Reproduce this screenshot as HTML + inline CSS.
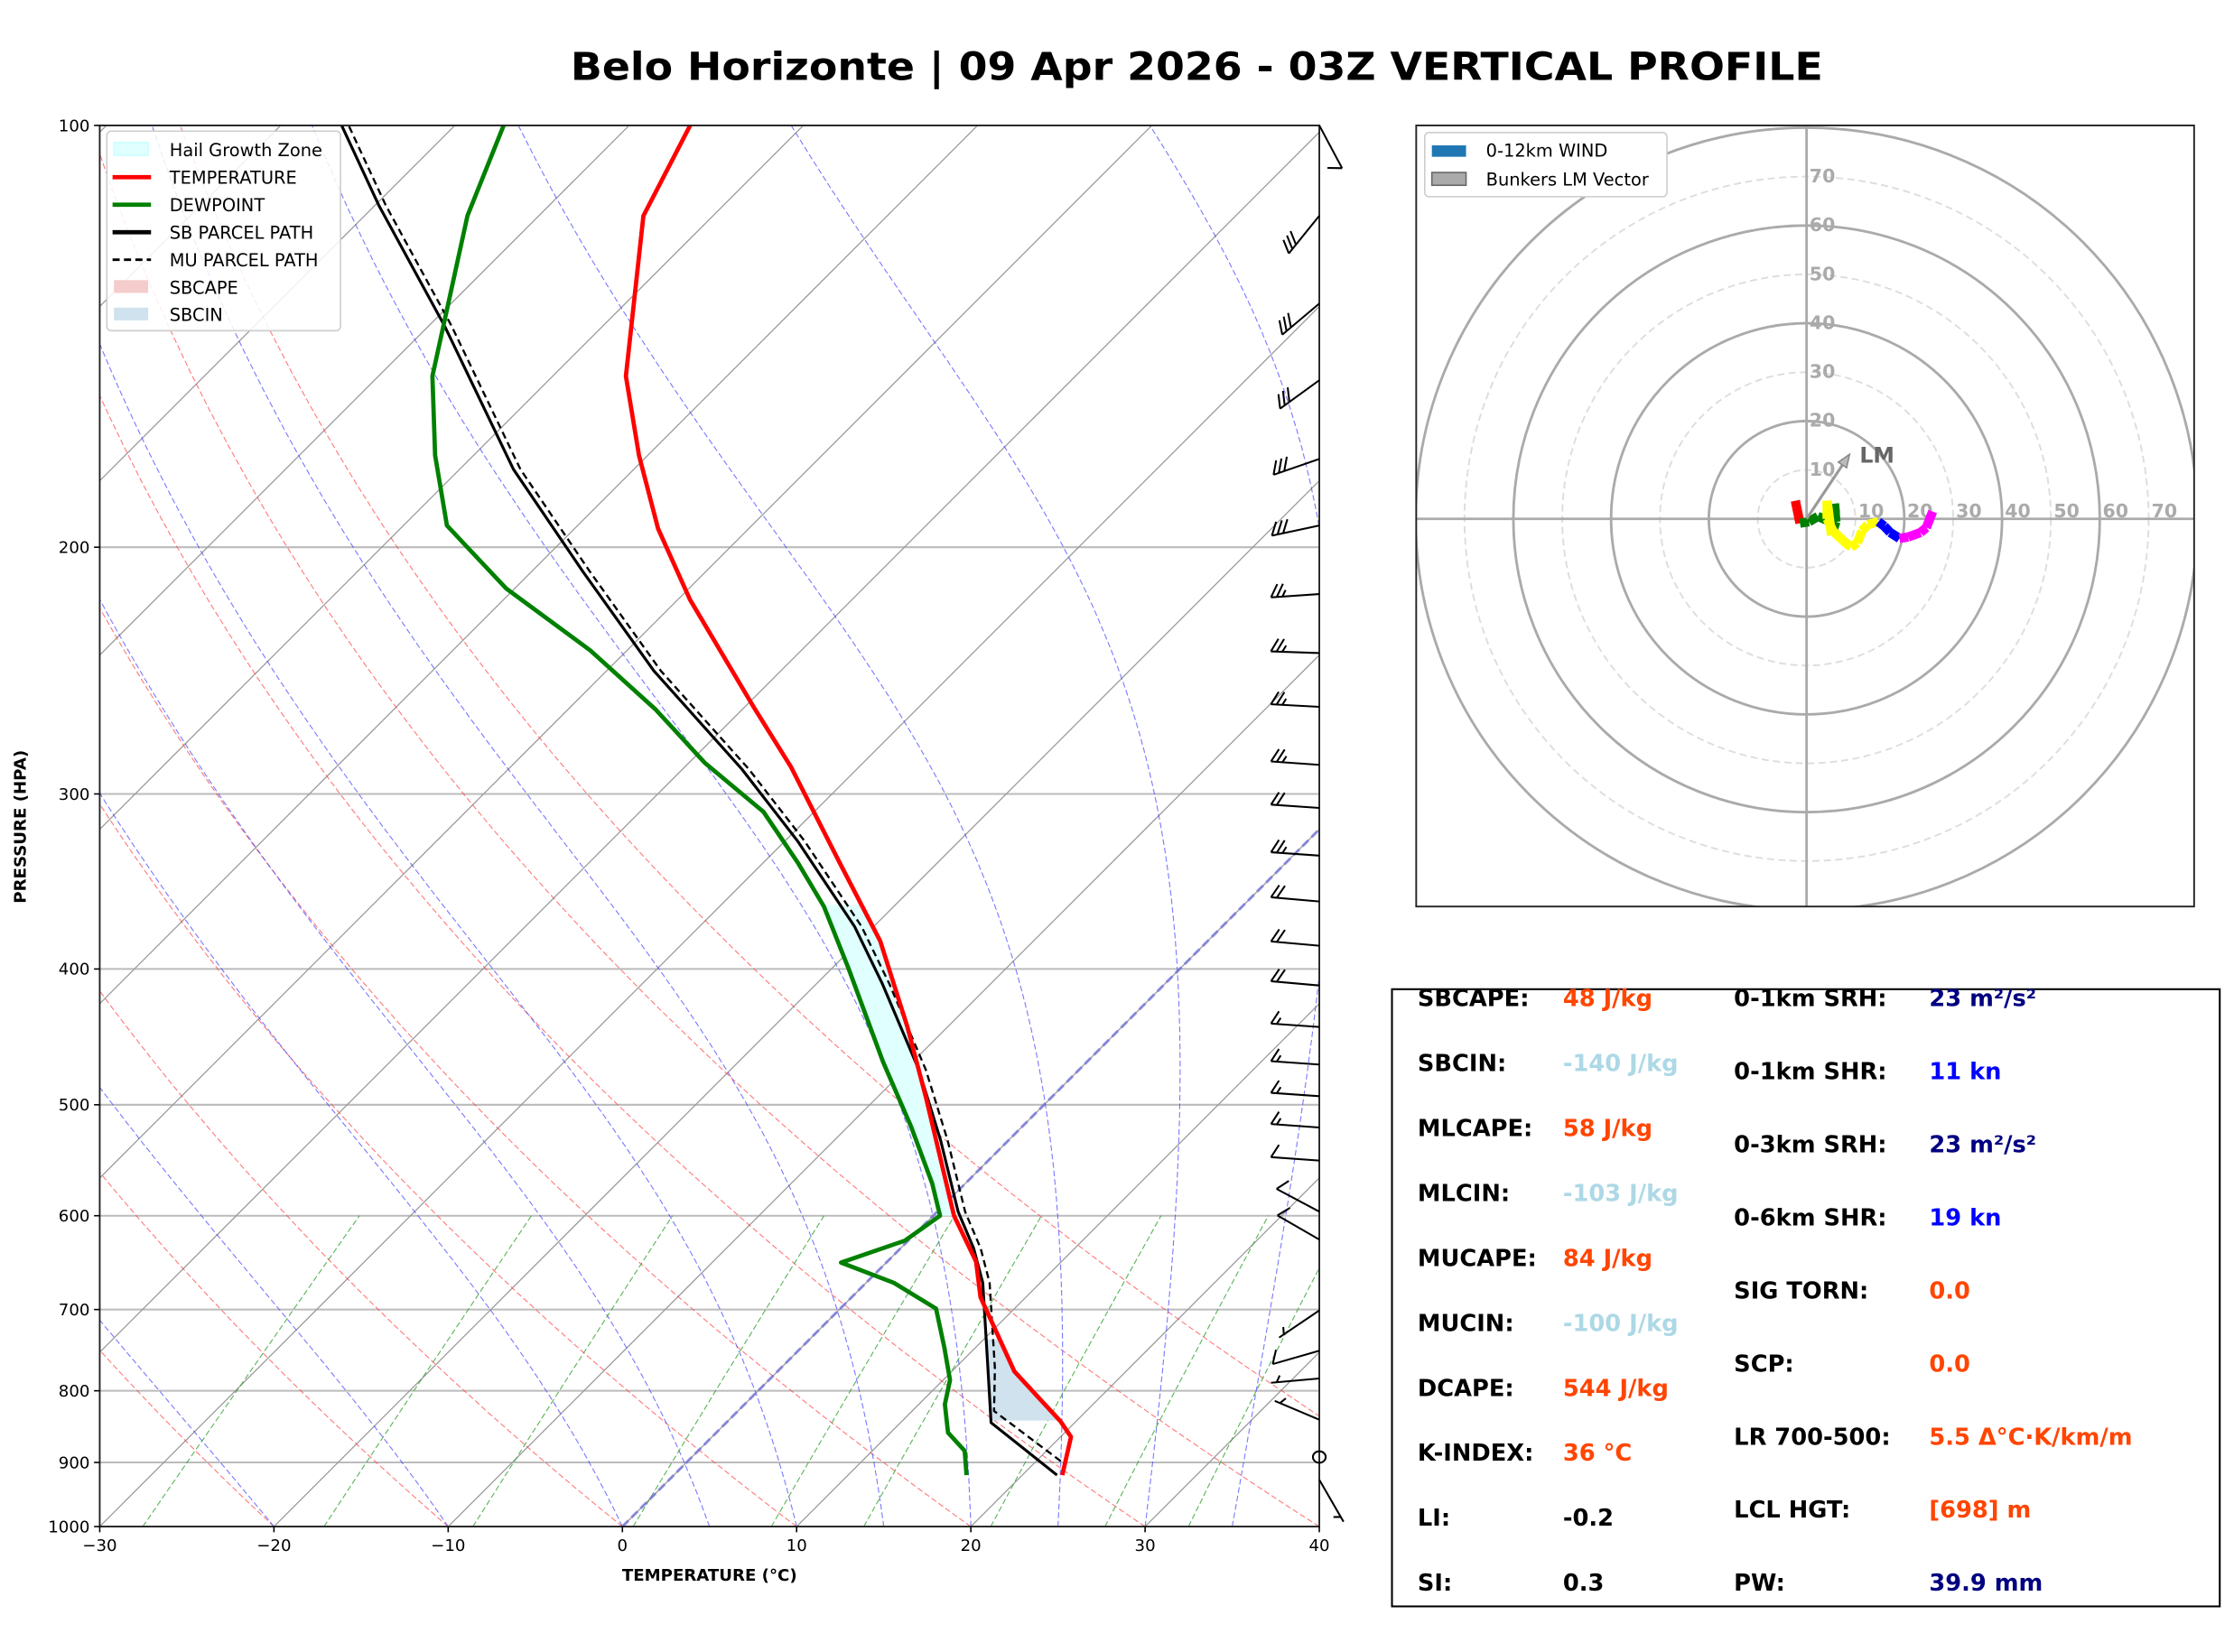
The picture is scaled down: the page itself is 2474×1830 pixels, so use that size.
<!DOCTYPE html>
<html><head><meta charset="utf-8"><style>
html,body{margin:0;padding:0;background:#fff}
svg{display:block}
text{font-family:"DejaVu Sans","Liberation Sans",sans-serif}
</style></head><body>
<svg id="fig" width="2474" height="1830" viewBox="0 0 1568 1159" preserveAspectRatio="none" xmlns="http://www.w3.org/2000/svg">
<defs>
<clipPath id="skclip"><rect x="70" y="88" width="856" height="983"/></clipPath>
<clipPath id="hoclip"><rect x="994" y="88" width="546" height="548"/></clipPath>
</defs>
<rect width="1568" height="1159" fill="#fff"/>
<text x="840" y="56" text-anchor="middle" font-size="27" font-weight="bold" textLength="879" lengthAdjust="spacingAndGlyphs">Belo Horizonte | 09 Apr 2026 - 03Z VERTICAL PROFILE</text>
<g id="skew"></g>
<g id="hodo"></g>
<g id="table"></g>
</svg>
<script>
// ---- Sounding data (pressure hPa, temperature °C) ----
const tempP = [919,863,841,775,686,647,600,494,440,382,336,287,260,218,194,172,151,116,100];
const tempT = [22.3,20.6,19.1,13.6,7.4,5.1,1.2,-7.2,-12.3,-18.8,-25.6,-33.9,-39.5,-49.3,-55.2,-60.5,-65.8,-74,-76.5];
const dewP = [919,883,857,818,786,745,699,670,648,625,600,569,518,466,400,361,336,309,285,261,237,214,193,172,151,116,100];
const dewT = [16.8,15.3,13.3,11.5,10.4,8.2,5.5,1.6,-2.6,-0.2,0.4,-1.9,-6.4,-11.7,-19.0,-24.0,-28.0,-32.9,-39.1,-45.0,-52.1,-60.5,-67.5,-72.2,-76.9,-84.1,-87.2];
const sbP = [919,843,771,670,633,596,530,472,410,373,324,288,245,208,176,139,114,100];
const sbT = [22.0,15.2,11.9,6.7,4.2,1.2,-3.9,-9.2,-16.2,-21.1,-29.3,-36.6,-47.3,-57.1,-66.9,-79.1,-89.8,-96.5];
const muP = [898,827,771,670,633,596,530,472,410,373,324,288,245,208,176,139,114,100];
const muT = [21.4,14.7,12.3,7.1,4.6,1.6,-3.5,-8.8,-15.8,-20.7,-28.9,-36.2,-46.9,-56.7,-66.5,-78.7,-89.4,-96.1];
// ---- Wind barbs ----
const barbP = [100,116,134,152,173,193,216,238,260,286,307,332,358,385,411,440,468,493,519,548,596,624,701,749,784,839,926];
const barbDir = [152,219,230,234,251,258,266,272,273,274,274,274,275,275,275,274,274,274,274,274,298,300,236,254,265,293,150];
const barbSpd = [10,30,30,30,30,30,25,25,25,25,20,25,20,20,20,15,15,15,15,10,10,10,5,10,5,5,5];
const calmP = [892];
// ---- Hodograph (knots) ----
const hodoU = [-2.3,-1.35,0.5,2.3,4.2,5.9,5.7,6.0,5.1,4.2,4.2,5.4,7.3,9.1,10.4,11.3,12.5,14.7,15.9,17.1,19.0,20.8,23.3,24.5,25.8];
const hodoV = [3.7,-0.9,-0.6,0.5,-0.3,1.2,3.1,-0.6,-3.4,3.7,0,-2.5,-4.3,-5.8,-4.9,-2.5,-1.2,-0.6,-1.5,-2.8,-4.0,-3.7,-2.8,-1.8,1.5];
const hodoSeg = [0,0,1,1,1,1,1,1,1,2,2,2,2,2,2,2,2,2,3,3,3,4,4,4,4];
const segColors = ["#ff0000","#008000","#ffff00","#0000ff","#ff00ff"];
const lmU = 8.8, lmV = 13.2;
const xTicks = [-30,-20,-10,0,10,20,30,40];
const yTicks = [100,200,300,400,500,600,700,800,900,1000];
const hodoRings = [10,20,30,40,50,60,70,80];

const NS="http://www.w3.org/2000/svg";
function mk(tag, attrs, parent){const e=document.createElementNS(NS,tag);for(const k in attrs)e.setAttribute(k,attrs[k]);parent.appendChild(e);return e;}
const L=70,R=926,T0=88,B=1071,PXC=856/70;
function Y(p){return B-983*Math.log10(1000/p);}
function X(t,p){return L+(t+30)*PXC+(B-Y(p));}
function interp(P,Tv,p){for(let i=0;i<P.length-1;i++){if(p<=P[i]&&p>=P[i+1]){const f=Math.log(P[i]/p)/Math.log(P[i]/P[i+1]);return Tv[i]+f*(Tv[i+1]-Tv[i]);}}return null;}
const skew=document.getElementById('skew');
const bg=mk('g',{'clip-path':'url(#skclip)'},skew);


yTicks.forEach(p=>{const l=mk('line',{x1:L,x2:R,y1:Y(p),y2:Y(p),stroke:'#bbb','stroke-width':1.3},bg);});
for(let t=-120;t<=40;t+=10){const l=mk('line',{x1:X(t,1000),y1:Y(1000),x2:X(t,100),y2:Y(100),stroke:'#999','stroke-width':0.8},bg);}
for(let t0=-40;t0<=50;t0+=10){let d='';for(let p=1000;p>=100;p-=10){const t=(t0+273.15)*Math.pow(p/1000,0.2857)-273.15;d+=(p==1000?'M':'L')+X(t,p).toFixed(1)+' '+Y(p).toFixed(1);}const e=mk('path',{d:d,fill:'none',stroke:'#ff4040','stroke-width':0.7,'stroke-dasharray':'4 2','opacity':0.7},bg);}
function es(t){return 6.112*Math.exp(17.67*t/(t+243.5));}
[-20,-10,0,5,10,15,20,25,30,35].forEach(t0=>{let t=t0+273.15,d='';for(let p=1000;p>=100;p-=5){d+=(p==1000?'M':'L')+X(t-273.15,p).toFixed(1)+' '+Y(p).toFixed(1);const e=es(t-273.15),rs=0.622*e/(p-e);const dtdp=(287*t+2.5e6*rs)/(p*(1005+2.5e6*2.5e6*rs*0.622/(287*t*t)));t-=dtdp*5;}const e=mk('path',{d:d,fill:'none',stroke:'#4040ff','stroke-width':0.7,'stroke-dasharray':'4 2','opacity':0.7},bg);});
[0.4,1,2,4,7,10,16,24,32].forEach(w=>{let d='';for(let p=1000;p>=600;p-=20){const e=w*p/(622+w),lg=Math.log(e/6.112),t=243.5*lg/(17.67-lg);d+=(p==1000?'M':'L')+X(t,p).toFixed(1)+' '+Y(p).toFixed(1);}const e=mk('path',{d:d,fill:'none',stroke:'#30a030','stroke-width':0.7,'stroke-dasharray':'4 2','opacity':0.8},bg);});
const fz=mk('line',{x1:X(0,1000),y1:Y(1000),x2:X(0,100),y2:Y(100),stroke:'#6a6ae0','stroke-width':2,'stroke-dasharray':'6 3',opacity:0.65},bg);

function fillBetween(P1,T1,P2,T2,pb,pt,col,name){let a=[],b=[];for(let p=pb;p>=pt;p-=5){a.push(X(interp(P1,T1,p),p).toFixed(1)+','+Y(p).toFixed(1));b.unshift(X(interp(P2,T2,p),p).toFixed(1)+','+Y(p).toFixed(1));}const e=mk('polygon',{points:a.concat(b).join(' '),fill:col,stroke:'none'},bg);}
fillBetween(dewP,dewT,tempP,tempT,600,360,'#e0ffff','hail-growth-zone-fill');
fillBetween(sbP,sbT,tempP,tempT,840,735,'#cfe2ee','sbcin-fill');
function line(P,Tv,col,w,dash,name){const d=P.map((p,i)=>(i?'L':'M')+X(Tv[i],p).toFixed(1)+' '+Y(p).toFixed(1)).join('');const e=mk('path',{d:d,fill:'none',stroke:col,'stroke-width':w,'stroke-linejoin':'round'},bg);if(dash)e.setAttribute('stroke-dasharray',dash);}
line(sbP,sbT,'#000',2,null,'sb-parcel-path');
line(muP,muT,'#000',1.5,'5 3','mu-parcel-path');
line(tempP,tempT,'#ff0000',3,null,'temperature-line');
line(dewP,dewT,'#008000',3,null,'dewpoint-line');
const fr=mk('rect',{x:L,y:T0,width:R-L,height:B-T0,fill:'none',stroke:'#222','stroke-width':1.2},skew);

xTicks.forEach(t=>{const x=L+(t+30)*PXC;mk('line',{x1:x,x2:x,y1:B,y2:B+4,stroke:'#000','stroke-width':1},skew);const tx=mk('text',{x:x,y:B+17,'text-anchor':'middle','font-size':11.5},skew);tx.textContent=(t<0?'\u2212'+(-t):''+t);});
yTicks.forEach(p=>{mk('line',{x1:L-4,x2:L,y1:Y(p),y2:Y(p),stroke:'#000','stroke-width':1},skew);const tx=mk('text',{x:L-7,y:Y(p)+4,'text-anchor':'end','font-size':11.5},skew);tx.textContent=p;});
const xt=mk('text',{x:498,y:1109,'text-anchor':'middle','font-size':11.5,'font-weight':'bold'},skew);xt.textContent='TEMPERATURE (°C)';

const yt=mk('text',{x:18,y:580,'text-anchor':'middle','font-size':11.5,'font-weight':'bold',transform:'rotate(-90 18 580)'},skew);yt.textContent='PRESSURE (HPA)';

const bgB=mk('g',{stroke:'#000','stroke-width':1.3,fill:'none'},skew);

barbP.forEach((p,i)=>{const y=Y(p),x=R,d=barbDir[i]*Math.PI/180,sx=Math.sin(d),sy=-Math.cos(d),Ls=34;const ex=x+sx*Ls,ey=y+sy*Ls;const px=-sy,py=sx;let s=barbSpd[i],off=0,dd=`M${x} ${y}L${ex.toFixed(1)} ${ey.toFixed(1)}`;while(s>=10){const bx=ex-sx*off,by=ey-sy*off;dd+=`M${bx.toFixed(1)} ${by.toFixed(1)}l${(px*9-sx*5).toFixed(1)} ${(py*9-sy*5).toFixed(1)}`;s-=10;off+=4;}if(s>=5){if(off==0)off=4;const bx=ex-sx*off,by=ey-sy*off;dd+=`M${bx.toFixed(1)} ${by.toFixed(1)}l${(px*4.5-sx*2.5).toFixed(1)} ${(py*4.5-sy*2.5).toFixed(1)}`;}const e=mk('path',{d:dd},bgB);});
calmP.forEach(p=>{const e=mk('ellipse',{cx:R,cy:Y(p),rx:4.5,ry:4},bgB);});
const lg=mk('g',{},skew);
mk('rect',{x:75,y:92,width:164,height:140,rx:3,fill:'#fff','fill-opacity':0.85,stroke:'#ccc','stroke-width':1},lg);
const lgItems=[['Hail Growth Zone','patch','#e0ffff'],['TEMPERATURE','line','#ff0000'],['DEWPOINT','line','#008000'],['SB PARCEL PATH','line','#000'],['MU PARCEL PATH','dash','#000'],['SBCAPE','patch','#f4cccc'],['SBCIN','patch','#cfe2ee']];
lgItems.forEach((it,i)=>{const y=105+i*19.3;if(it[1]=='patch'){mk('rect',{x:80,y:y-5,width:24,height:9,fill:it[2],stroke:it[0]=='Hail Growth Zone'?'#c8ffff':'none'},lg);}else{mk('line',{x1:79,x2:106,y1:y,y2:y,stroke:it[2],'stroke-width':it[1]=='dash'?1.8:3,'stroke-dasharray':it[1]=='dash'?'5 3':'none'},lg);}const t=mk('text',{x:119,y:y+4.5,'font-size':12.3},lg);t.textContent=it[0];});
const ho=document.getElementById('hodo');const cx=1268,cy=364,K=3.43;
const hc=mk('g',{'clip-path':'url(#hoclip)'},ho);
hodoRings.forEach(r=>{const e=mk('circle',{cx:cx,cy:cy,r:r*K,fill:'none',stroke:r%20==0?'#aaa':'#ddd','stroke-width':r%20==0?1.8:1.2,'stroke-dasharray':r%20==0?'none':'5 3'},hc);});
mk('line',{x1:994,x2:1540,y1:cy,y2:cy,stroke:'#aaa','stroke-width':1.8},hc);
mk('line',{x1:cx,x2:cx,y1:88,y2:636,stroke:'#aaa','stroke-width':1.8},hc);
[10,20,30,40,50,60,70].forEach(r=>{let t=mk('text',{x:cx+r*K+2,y:cy-1,'font-size':13,'font-weight':'bold',fill:'#aaa'},hc);t.textContent=r;t=mk('text',{x:cx+2,y:cy-r*K+4,'font-size':13,'font-weight':'bold',fill:'#aaa'},hc);t.textContent=r;});
for(let i=0;i<hodoU.length-1;i++){const e=mk('line',{x1:cx+hodoU[i]*K,y1:cy-hodoV[i]*K,x2:cx+hodoU[i+1]*K,y2:cy-hodoV[i+1]*K,stroke:segColors[hodoSeg[i+1]],'stroke-width':6.5,'stroke-linecap':'butt'},hc);}
const ax=cx+lmU*K,ay=cy-lmV*K,ang=Math.atan2(ay-cy,ax-cx);
const lm=mk('g',{},hc);
mk('line',{x1:cx,y1:cy,x2:ax-Math.cos(ang)*6,y2:ay-Math.sin(ang)*6,stroke:'#999','stroke-width':2},lm);
const hx=Math.cos(ang),hy=Math.sin(ang);
mk('polygon',{points:`${ax},${ay} ${ax-hx*9+hy*3.5},${ay-hy*9-hx*3.5} ${ax-hx*9-hy*3.5},${ay-hy*9+hx*3.5}`,fill:'#bbb',stroke:'#888','stroke-width':1},lm);
const lmt=mk('text',{x:ax+7,y:ay+6,'font-size':15,'font-weight':'bold',fill:'#666'},hc);lmt.textContent='LM';

const hf=mk('rect',{x:994,y:88,width:546,height:548,fill:'none',stroke:'#222','stroke-width':1.2},ho);

const hl=mk('g',{},ho);
mk('rect',{x:1000,y:93,width:170,height:45,rx:3,fill:'#fff',stroke:'#ccc'},hl);
mk('rect',{x:1005,y:102,width:24,height:8,fill:'#1f77b4'},hl);
mk('rect',{x:1005,y:121,width:24,height:9,fill:'#aaa',stroke:'#666'},hl);
let t1=mk('text',{x:1043,y:110,'font-size':12.3},hl);t1.textContent='0-12km WIND';
t1=mk('text',{x:1043,y:130,'font-size':12.3},hl);t1.textContent='Bunkers LM Vector';
const tb=document.getElementById('table');
const tf=mk('rect',{x:977,y:694,width:581,height:433,fill:'none',stroke:'#000','stroke-width':1.3},tb);

const OR='#ff4500',LB='#add8e6',NV='#000080',BL='#0000ff';
const leftRows=[['SBCAPE:','48 J/kg',OR],['SBCIN:','-140 J/kg',LB],['MLCAPE:','58 J/kg',OR],['MLCIN:','-103 J/kg',LB],['MUCAPE:','84 J/kg',OR],['MUCIN:','-100 J/kg',LB],['DCAPE:','544 J/kg',OR],['K-INDEX:','36 °C',OR],['LI:','-0.2','#000'],['SI:','0.3','#000']];
const rightRows=[['0-1km SRH:','23 m²/s²',NV],['0-1km SHR:','11 kn',BL],['0-3km SRH:','23 m²/s²',NV],['0-6km SHR:','19 kn',BL],['SIG TORN:','0.0',OR],['SCP:','0.0',OR],['LR 700-500:','5.5 Δ°C·K/km/m',OR],['LCL HGT:','[698] m',OR],['PW:','39.9 mm',NV]];
leftRows.forEach((r,i)=>{const y=700+i*45.55+6;let t=mk('text',{x:995,y:y,'font-size':16.3,'font-weight':'bold'},tb);t.textContent=r[0];t=mk('text',{x:1097,y:y,'font-size':16.3,'font-weight':'bold',fill:r[2]},tb);t.textContent=r[1];});
rightRows.forEach((r,i)=>{const y=700+i*51.25+6;let t=mk('text',{x:1217,y:y,'font-size':16.3,'font-weight':'bold'},tb);t.textContent=r[0];t=mk('text',{x:1354,y:y,'font-size':16.3,'font-weight':'bold',fill:r[2]},tb);t.textContent=r[1];});
</script>
</body></html>
